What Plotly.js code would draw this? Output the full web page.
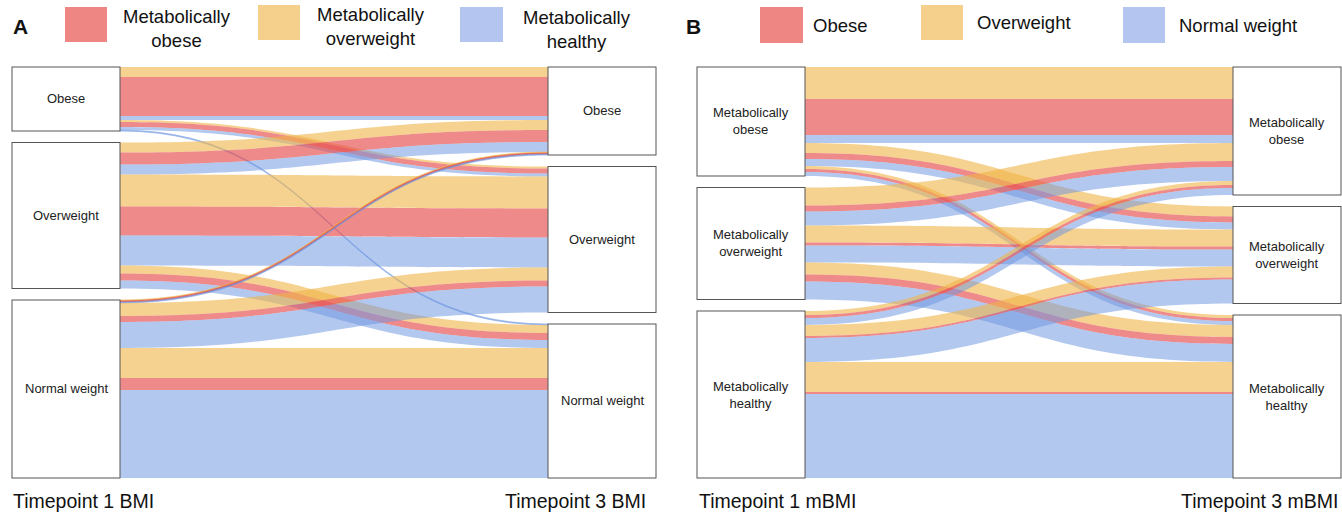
<!DOCTYPE html>
<html>
<head>
<meta charset="utf-8">
<script src="https://cdn.plot.ly/plotly-3.0.1.min.js"></script>
<style>html,body{margin:0;padding:0;background:#fff;}#chart{width:1342px;height:513px;}</style>
</head>
<body>
<div id="chart"></div>
<script>
// ---------- DATA ----------
// Panel A: BMI category at timepoint 1 (rows) -> timepoint 3 (cols), split by metabolic status
const bmiLabels = ['Obese', 'Overweight', 'Normal weight'];
const metLabels = ['Metabolically<br>obese', 'Metabolically<br>overweight', 'Metabolically<br>healthy'];

const A_metOverweight = [[10, 2, 0], [10, 32, 8], [1, 13, 30]];
const A_metObese      = [[39, 5, 0], [12, 29, 7], [1, 6, 12]];
const A_metHealthy    = [[4, 3, 1], [10, 30, 8], [1, 26, 88]];

// Panel B: mBMI category at timepoint 1 (rows) -> timepoint 3 (cols), split by BMI status
const B_overweight = [[32, 10, 3], [18, 17, 12], [4, 11, 30]];
const B_obese      = [[36, 6, 3], [6, 3, 7], [3, 2, 2]];
const B_normal     = [[8, 7, 4], [14, 17, 18], [7, 24, 84]];

const legendA = ['Metabolically<br>obese', 'Metabolically<br>overweight', 'Metabolically<br>healthy'];
const legendB = ['Obese', 'Overweight', 'Normal weight'];
const axisA = ['Timepoint 1 BMI', 'Timepoint 3 BMI'];
const axisB = ['Timepoint 1 mBMI', 'Timepoint 3 mBMI'];

// ---------- STYLE ----------
const W = 1342, H = 513;
const FONT = 'Liberation Sans, Arial, sans-serif';
const THICK = 108, PAD = 11.5;
const fillRed = 'rgba(230,80,80,0.67)', fillYel = 'rgba(240,180,70,0.6)', fillBlu = 'rgba(110,150,225,0.52)';
const swRed = '#EE8783', swYel = '#F5CF8C', swBlu = '#B4C6EF';

const yDom = [1 - 478 / H, 1 - 67 / H];
const domA = {x: [12 / W, 656 / W], y: yDom};
const domB = {x: [697 / W, 1341 / W], y: yDom};

function buildPanel(labels, yel, red, blu, dom) {
  const src = [], tgt = [], val = [], col = [];
  const groups = [[yel, fillYel], [red, fillRed], [blu, fillBlu]];
  for (let s = 0; s < 3; s++) {
    for (let t = 0; t < 3; t++) {
      groups.forEach(([m, f]) => {
        if (m[s][t] > 0) {
          src.push(s); tgt.push(3 + t); val.push(m[s][t]); col.push(f);
        }
      });
    }
  }
  const trace = {
    type: 'sankey',
    domain: dom,
    arrangement: 'fixed',
    hoverinfo: 'none',
    textfont: {color: 'rgba(0,0,0,0)', size: 1},
    node: {
      label: labels.concat(labels),
      color: 'white',
      line: {color: '#555', width: 1},
      thickness: THICK,
      pad: PAD,
      hoverinfo: 'none'
    },
    link: {source: src, target: tgt, value: val, color: col,
           line: {color: 'rgba(0,0,0,0)', width: 0}, hoverinfo: 'none'}
  };
  // node label annotations, positioned from the same data
  const totL = [0, 0, 0], totR = [0, 0, 0];
  for (let i = 0; i < src.length; i++) { totL[src[i]] += val[i]; totR[tgt[i] - 3] += val[i]; }
  const hpx = (dom.y[1] - dom.y[0]) * H;
  const sum = totL.reduce((a, b) => a + b, 0);
  const ky = (hpx - 2 * PAD) / sum;
  const anns = [];
  [[totL, dom.x[0] * W + THICK / 2], [totR, dom.x[1] * W - THICK / 2]].forEach(([tot, cx]) => {
    let y = 0;
    tot.forEach((v, i) => {
      const c = y + v * ky / 2;
      y += v * ky + PAD;
      anns.push({xref: 'paper', yref: 'paper', x: cx / W, y: dom.y[1] - c / H,
        text: labels[i], showarrow: false, xanchor: 'center', yanchor: 'middle',
        font: {family: FONT, size: 13, color: '#222'}});
    });
  });
  return {trace, anns};
}

const pA = buildPanel(bmiLabels, A_metOverweight, A_metObese, A_metHealthy, domA);
const pB = buildPanel(metLabels, B_overweight, B_obese, B_normal, domB);

const shapes = [];
const anns = [].concat(pA.anns, pB.anns);
function swatch(x0, x1, y0, y1, c) {
  shapes.push({type: 'rect', xref: 'paper', yref: 'paper', x0: x0 / W, x1: x1 / W,
    y0: 1 - y1 / H, y1: 1 - y0 / H, fillcolor: c, line: {width: 0}});
}
function txt(x, y, t, size, anchor, bold) {
  anns.push({xref: 'paper', yref: 'paper', x: x / W, y: 1 - y / H, text: bold ? '<b>' + t + '</b>' : t,
    showarrow: false, xanchor: anchor, yanchor: 'middle', font: {family: FONT, size: size, color: '#111'}});
}
// Panel letters
txt(11, 27, 'A', 21, 'left', true);
txt(684, 27, 'B', 21, 'left', true);
// Legend A
swatch(65, 107, 7, 42, swRed); txt(177, 28, legendA[0], 18.5, 'center');
swatch(258, 300, 5, 40, swYel); txt(371, 27, legendA[1], 18.5, 'center');
swatch(460, 503, 7, 42, swBlu); txt(577, 29, legendA[2], 18.5, 'center');
// Legend B
swatch(760, 803, 7, 43, swRed); txt(811, 25, legendB[0], 18.5, 'left');
swatch(921, 963, 5, 40, swYel); txt(975, 22, legendB[1], 18.5, 'left');
swatch(1123, 1165, 7, 43, swBlu); txt(1177, 25, legendB[2], 18.5, 'left');
// Axis captions
txt(11, 501, axisA[0], 19.5, 'left');
txt(648, 501, axisA[1], 19.5, 'right');
txt(697, 501, axisB[0], 19.5, 'left');
txt(1341, 501, axisB[1], 19.5, 'right');

const layout = {
  width: W, height: H,
  margin: {l: 0, r: 0, t: 0, b: 0},
  paper_bgcolor: 'white',
  font: {family: FONT},
  shapes: shapes,
  annotations: anns
};
Plotly.newPlot('chart', [pA.trace, pB.trace], layout, {displayModeBar: false, staticPlot: true});
</script>
</body>
</html>
